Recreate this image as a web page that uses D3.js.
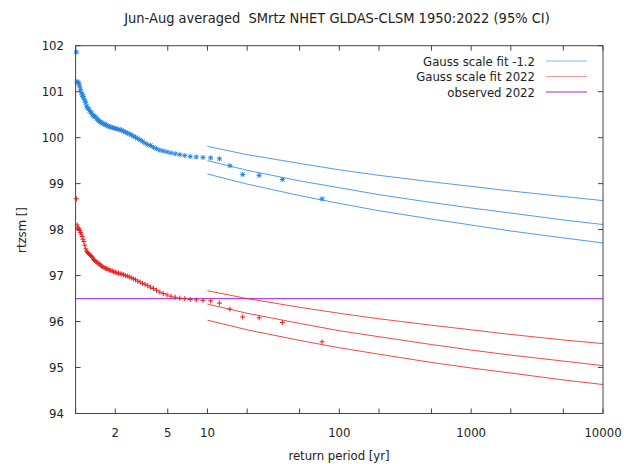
<!DOCTYPE html>
<html>
<head>
<meta charset="utf-8">
<script src="https://cdn.jsdelivr.net/npm/d3@7"></script>
<style>
  body { margin: 0; background: #fff; }
  svg { font-family: "DejaVu Sans Condensed", "Liberation Sans Narrow", "DejaVu Sans", sans-serif; }
  text { white-space: pre; }
</style>
</head>
<body>
<svg id="chart" width="624" height="464"></svg>
<script>
// sorted observations, rank 1 = lowest value (longest return period)
const nYears = 73;
const obsCold = [
  98.67, 99.09, 99.18, 99.20, 99.39, 99.54, 99.56, 99.57, 99.58, 99.59,
  99.61, 99.63, 99.65, 99.67, 99.69, 99.71, 99.73, 99.76, 99.79, 99.83,
  99.85, 99.88, 99.92, 99.95, 99.98, 100.01, 100.03, 100.06, 100.08, 100.10,
  100.12, 100.14, 100.16, 100.17, 100.18, 100.19, 100.20, 100.21, 100.22, 100.23,
  100.24, 100.25, 100.27, 100.28, 100.29, 100.31, 100.33, 100.34, 100.36, 100.38,
  100.41, 100.44, 100.46, 100.47, 100.50, 100.53, 100.56, 100.59, 100.62, 100.65,
  100.68, 100.76, 100.80, 100.86, 100.90, 100.93, 100.98, 101.05, 101.12, 101.18,
  101.20, 101.22, 101.86
];
const obs2022 = [
  95.56, 95.98, 96.08, 96.10, 96.27, 96.40, 96.45, 96.46, 96.47, 96.48,
  96.50, 96.51, 96.53, 96.55, 96.58, 96.61, 96.64, 96.68, 96.72, 96.75,
  96.78, 96.81, 96.83, 96.86, 96.88, 96.91, 96.93, 96.95, 96.97, 96.99,
  97.00, 97.02, 97.03, 97.04, 97.05, 97.06, 97.07, 97.08, 97.10, 97.11,
  97.12, 97.14, 97.15, 97.16, 97.17, 97.19, 97.21, 97.23, 97.25, 97.27,
  97.29, 97.31, 97.33, 97.35, 97.39, 97.42, 97.44, 97.46, 97.48, 97.50,
  97.53, 97.58, 97.66, 97.74, 97.79, 97.85, 97.90, 97.94, 97.98, 98.02,
  98.05, 98.10, 98.67
];

// fitted return levels (central + 95% CI)
const fitT = [10, 20, 50, 100, 200, 500, 1000, 2000, 5000, 10000];
const coldMid = [99.50, 99.29, 99.06, 98.91, 98.76, 98.59, 98.47, 98.36, 98.21, 98.11];
const coldHi  = [99.81, 99.63, 99.44, 99.30, 99.18, 99.04, 98.94, 98.84, 98.72, 98.63];
const coldLo  = [99.21, 98.99, 98.74, 98.57, 98.41, 98.23, 98.10, 97.97, 97.82, 97.71];
const nowMid  = [96.38, 96.18, 95.96, 95.80, 95.67, 95.50, 95.38, 95.27, 95.14, 95.04];
const nowHi   = [96.67, 96.50, 96.31, 96.18, 96.06, 95.92, 95.82, 95.72, 95.60, 95.52];
const nowLo   = [96.03, 95.82, 95.59, 95.43, 95.29, 95.11, 94.99, 94.88, 94.73, 94.63];
const observed2022 = 96.50;

const xTicks = [1, 2, 5, 10, 20, 50, 100, 200, 500, 1000, 2000, 5000, 10000];
const xLabels = [2, 5, 10, 100, 1000, 10000];
const yTicks = [94, 95, 96, 97, 98, 99, 100, 101, 102];
const legendItems = [
  { label: 'Gauss scale fit -1.2', color: '#7dbbe6' },
  { label: 'Gauss scale fit 2022', color: '#f29a9a' },
  { label: 'observed 2022', color: '#9a30d0' }
];

(function() {
  const blue = '#2585e0', red = '#e61e1e', purple = '#b844e6';
  const fs = 13;

  const svg = d3.select('#chart');
  const pl = 75.6, pr = 603, pt = 45.7, pb = 413.5;

  const x = d3.scaleLog().domain([1, 10000]).range([pl, pr]);
  const y = d3.scaleLinear().domain([94, 102]).range([pb, pt]);

  // ticks, inward on all four sides
  const axisColor = '#444';
  const tk = svg.append('g').attr('stroke', axisColor).attr('stroke-width', 1);
  xTicks.forEach(t => {
    tk.append('line').attr('x1', x(t)).attr('x2', x(t)).attr('y1', pb).attr('y2', pb - 5);
    tk.append('line').attr('x1', x(t)).attr('x2', x(t)).attr('y1', pt).attr('y2', pt + 5);
  });
  yTicks.forEach(t => {
    tk.append('line').attr('x1', pl).attr('x2', pl + 5).attr('y1', y(t)).attr('y2', y(t));
    tk.append('line').attr('x1', pr).attr('x2', pr - 5).attr('y1', y(t)).attr('y2', y(t));
  });

  svg.append('g').selectAll('text').data(xLabels).enter().append('text')
    .attr('x', d => x(d)).attr('y', 437)
    .attr('text-anchor', 'middle').attr('font-size', fs).attr('fill', '#222')
    .text(d => d);

  svg.append('g').selectAll('text').data(yTicks).enter().append('text')
    .attr('x', 64).attr('y', d => y(d) + 4.5)
    .attr('text-anchor', 'end').attr('font-size', fs).attr('fill', '#222')
    .text(d => d);

  const plot = svg.append('g');

  // observed 2022 level
  plot.append('line')
    .attr('x1', pl).attr('x2', pr)
    .attr('y1', y(observed2022)).attr('y2', y(observed2022))
    .attr('stroke', purple).attr('stroke-width', 1.2);

  const line = d3.line().x(d => x(d[0])).y(d => y(d[1]));
  [[coldHi, blue], [coldMid, blue], [coldLo, blue], [nowHi, red], [nowMid, red], [nowLo, red]]
    .forEach(([vals, c]) => {
      plot.append('path')
        .datum(fitT.map((t, i) => [t, vals[i]]))
        .attr('d', line)
        .attr('fill', 'none').attr('stroke', c).attr('stroke-width', 1).attr('opacity', 0.8);
    });

  function points(vals, color, star) {
    const g = plot.append('g').attr('stroke', color).attr('stroke-width', 1);
    vals.forEach((v, i) => {
      const px = x((nYears + 1) / (i + 1)), py = y(v), s = 2.5;
      g.append('line').attr('x1', px - s).attr('x2', px + s).attr('y1', py).attr('y2', py);
      g.append('line').attr('x1', px).attr('x2', px).attr('y1', py - s).attr('y2', py + s);
      if (star) {
        g.append('line').attr('x1', px - 2).attr('x2', px + 2).attr('y1', py - 2).attr('y2', py + 2);
        g.append('line').attr('x1', px - 2).attr('x2', px + 2).attr('y1', py + 2).attr('y2', py - 2);
      }
    });
  }
  points(obsCold, blue, true);
  points(obs2022, red, false);

  // frame
  svg.append('rect')
    .attr('x', pl).attr('y', pt).attr('width', pr - pl).attr('height', pb - pt)
    .attr('fill', 'none').attr('stroke', axisColor).attr('stroke-width', 1);

  // legend
  const lg = svg.append('g');
  legendItems.forEach((d, i) => {
    const ly = 61 + i * 15.5;
    lg.append('text').attr('x', 535).attr('y', ly + 4.5)
      .attr('text-anchor', 'end').attr('font-size', fs).attr('fill', '#222').text(d.label);
    lg.append('line').attr('x1', 546).attr('x2', 587).attr('y1', ly).attr('y2', ly)
      .attr('stroke', d.color).attr('stroke-width', 1.2);
  });

  // titles
  svg.append('text').attr('x', 337).attr('y', 23).attr('text-anchor', 'middle')
    .attr('font-size', 14.5).attr('fill', '#222')
    .text('Jun-Aug averaged  SMrtz NHET GLDAS-CLSM 1950:2022 (95% CI)');
  svg.append('text').attr('x', 339).attr('y', 460).attr('text-anchor', 'middle')
    .attr('font-size', fs).attr('fill', '#222').text('return period [yr]');
  svg.append('text').attr('transform', 'translate(26,230) rotate(-90)')
    .attr('text-anchor', 'middle').attr('font-size', fs).attr('fill', '#222').text('rtzsm []');
})();
</script>
</body>
</html>
